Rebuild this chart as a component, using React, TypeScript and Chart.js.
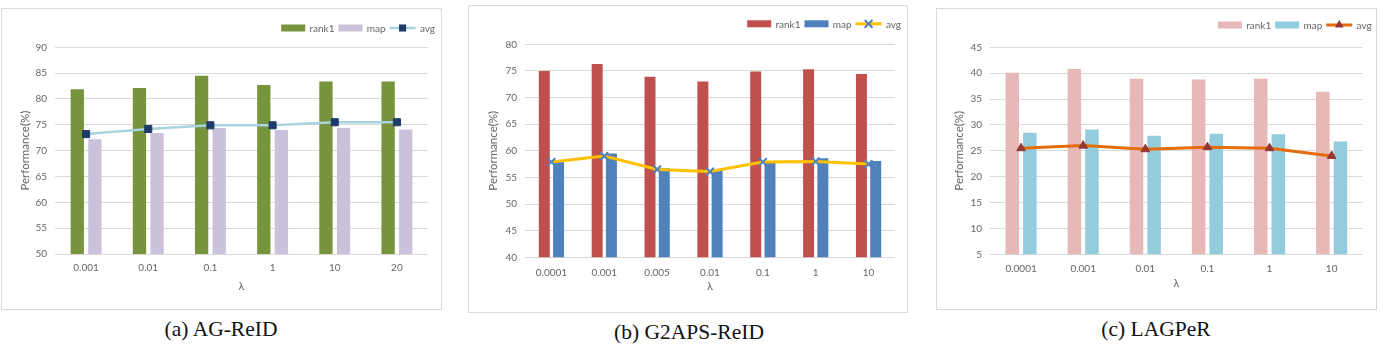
import React, { useEffect, useRef } from 'react';
import { Chart, registerables } from 'chart.js';

Chart.register(...registerables);

// ---------- Data ----------
const agLambdas = ['0.001', '0.01', '0.1', '1', '10', '20'];
const agRank1 = [81.9, 82.1, 84.5, 82.7, 83.4, 83.4];
const agMap = [72.2, 73.4, 74.4, 74.0, 74.4, 74.1];
const agAvg = [73.2, 74.2, 74.9, 74.9, 75.5, 75.5];

const g2Lambdas = ['0.0001', '0.001', '0.005', '0.01', '0.1', '1', '10'];
const g2Rank1 = [75.0, 76.3, 73.9, 73.0, 74.9, 75.3, 74.4];
const g2Map = [58.1, 59.5, 56.7, 56.4, 58.1, 58.6, 58.1];
const g2Avg = [57.9, 59.0, 56.5, 56.1, 57.9, 58.0, 57.5];

const laLambdas = ['0.0001', '0.001', '0.01', '0.1', '1', '10'];
const laRank1 = [40.1, 40.8, 38.9, 38.8, 38.9, 36.4];
const laMap = [28.5, 29.1, 27.9, 28.3, 28.2, 26.8];
const laAvg = [25.5, 26.0, 25.3, 25.7, 25.5, 24.0];

const seriesNames = ['rank1', 'map', 'avg'];
const yTitle = 'Performance(%)';
const xTitle = 'λ';

const TEXT = '#666666';
const GRID = '#d9d9d9';
const FONT = 'Lato, "Open Sans", sans-serif';

type Spec = {
  box: { left: number; top: number; width: number; height: number };
  caption: string;
  capCenter: number;
  capTop: number;
  labels: string[];
  rank1: number[];
  map: number[];
  avg: number[];
  yMin: number;
  yMax: number;
  c1: string;
  c2: string;
  lineColor: string;
  lineWidth: number;
  marker: 'rect' | 'crossRot' | 'triangle';
  markerColor: string;
  markerRadius: number;
  catPct: number;
  barPct: number;
  padTop: number;
  padRight: number;
  yAxisW: number;
  xAxisH: number;
  xTickPad: number;
  xTitlePad: number;
  yTitlePad: number;
  legendRight: number;
  legendY: number;
};

const specs: Spec[] = [
  {
    box: { left: 1, top: 8, width: 441, height: 302 },
    caption: '(a) AG-ReID', capCenter: 221, capTop: 318,
    labels: agLambdas, rank1: agRank1, map: agMap, avg: agAvg,
    yMin: 50, yMax: 90,
    c1: '#77933C', c2: '#CCC1DA', lineColor: '#A8D4E0', lineWidth: 2.5,
    marker: 'rect', markerColor: '#1F3B6A', markerRadius: 5,
    catPct: 0.566, barPct: 0.756,
    padTop: 38.3, padRight: 13, yAxisW: 53, xAxisH: 55,
    xTickPad: 8, xTitlePad: 16.4, yTitlePad: 16,
    legendRight: 433, legendY: 19,
  },
  {
    box: { left: 468, top: 5, width: 440, height: 308 },
    caption: '(b) G2APS-ReID', capCenter: 689, capTop: 321,
    labels: g2Lambdas, rank1: g2Rank1, map: g2Map, avg: g2Avg,
    yMin: 40, yMax: 80,
    c1: '#C0504D', c2: '#4F81BD', lineColor: '#FFC000', lineWidth: 3,
    marker: 'crossRot', markerColor: '#4F81BD', markerRadius: 5.5,
    catPct: 0.54, barPct: 0.77,
    padTop: 38.3, padRight: 12, yAxisW: 56, xAxisH: 54.7,
    xTickPad: 9.4, xTitlePad: 19.4, yTitlePad: 17.4,
    legendRight: 432, legendY: 17.8,
  },
  {
    box: { left: 936, top: 8, width: 441, height: 302 },
    caption: '(c) LAGPeR', capCenter: 1156, capTop: 318,
    labels: laLambdas, rank1: laRank1, map: laMap, avg: laAvg,
    yMin: 5, yMax: 45,
    c1: '#E6B9B8', c2: '#93CDDD', lineColor: '#E46C0A', lineWidth: 3,
    marker: 'triangle', markerColor: '#953735', markerRadius: 5,
    catPct: 0.566, barPct: 0.77,
    padTop: 38.3, padRight: 13.3, yAxisW: 53, xAxisH: 54.7,
    xTickPad: 8, xTitlePad: 19.1, yTitlePad: 15.4,
    legendRight: 434.7, legendY: 16,
  },
];

function drawMarker(ctx: CanvasRenderingContext2D, style: string, x: number, y: number, r: number, color: string) {
  ctx.save();
  ctx.fillStyle = color;
  ctx.strokeStyle = color;
  if (style === 'rect') {
    const s = r * Math.SQRT1_2;
    ctx.fillRect(x - s, y - s, 2 * s, 2 * s);
  } else if (style === 'crossRot') {
    const s = r * Math.SQRT1_2;
    ctx.lineWidth = 2;
    ctx.beginPath();
    ctx.moveTo(x - s, y - s);
    ctx.lineTo(x + s, y + s);
    ctx.moveTo(x - s, y + s);
    ctx.lineTo(x + s, y - s);
    ctx.stroke();
  } else {
    const h = r * 1.5;
    const w = r * Math.sqrt(3);
    ctx.beginPath();
    ctx.moveTo(x, y - r);
    ctx.lineTo(x + w / 2, y - r + h);
    ctx.lineTo(x - w / 2, y - r + h);
    ctx.closePath();
    ctx.fill();
  }
  ctx.restore();
}

function makeLegend(spec: Spec) {
  return {
    id: 'excelLegend',
    afterDraw(chart: any) {
      const ctx: CanvasRenderingContext2D = chart.ctx;
      const ds = chart.data.datasets;
      ctx.save();
      ctx.font = `10px ${FONT}`;
      ctx.textBaseline = 'middle';
      const gapSym = 4.3;
      const gapItem = 4;
      const items = ds.map((d: any) => {
        const isLine = d.type === 'line';
        return { d, isLine, sym: isLine ? 26 : 24, tw: ctx.measureText(d.label).width };
      });
      let total = 0;
      items.forEach((it: any, i: number) => {
        total += it.sym + gapSym + it.tw + (i < items.length - 1 ? gapItem : 0);
      });
      let x = spec.legendRight - total;
      const y = spec.legendY;
      items.forEach((it: any) => {
        if (it.isLine) {
          ctx.strokeStyle = it.d.borderColor;
          ctx.lineWidth = it.d.borderWidth;
          ctx.beginPath();
          ctx.moveTo(x, y);
          ctx.lineTo(x + it.sym, y);
          ctx.stroke();
          drawMarker(ctx, spec.marker, x + it.sym / 2, y, spec.markerRadius, spec.markerColor);
        } else {
          ctx.fillStyle = it.d.backgroundColor;
          ctx.fillRect(x, y - 3.5, it.sym, 7);
        }
        x += it.sym + gapSym;
        ctx.fillStyle = TEXT;
        ctx.textAlign = 'left';
        ctx.fillText(it.d.label, x, y + 0.5);
        x += it.tw + gapItem;
      });
      ctx.restore();
    },
  };
}

function Panel({ spec }: { spec: Spec }) {
  const ref = useRef<HTMLCanvasElement>(null);
  const cw = spec.box.width - 2;
  const ch = spec.box.height - 2;
  useEffect(() => {
    const chart = new Chart(ref.current as HTMLCanvasElement, {
      type: 'bar',
      data: {
        labels: spec.labels,
        datasets: [
          {
            label: seriesNames[0], data: spec.rank1, backgroundColor: spec.c1,
            categoryPercentage: spec.catPct, barPercentage: spec.barPct, order: 2,
          },
          {
            label: seriesNames[1], data: spec.map, backgroundColor: spec.c2,
            categoryPercentage: spec.catPct, barPercentage: spec.barPct, order: 2,
          },
          {
            type: 'line', label: seriesNames[2], data: spec.avg,
            borderColor: spec.lineColor, borderWidth: spec.lineWidth, tension: 0,
            pointStyle: spec.marker, pointRadius: spec.markerRadius,
            pointBackgroundColor: spec.markerColor, pointBorderColor: spec.markerColor,
            pointBorderWidth: spec.marker === 'crossRot' ? 2 : 1, order: 0,
          } as any,
        ],
      },
      options: {
        responsive: false,
        animation: false,
        layout: { padding: { left: 0, right: spec.padRight, top: spec.padTop, bottom: 0 } },
        plugins: { legend: { display: false }, tooltip: { enabled: false } },
        scales: {
          x: {
            grid: { display: false, drawTicks: false },
            border: { display: false },
            ticks: { padding: spec.xTickPad, color: TEXT, font: { family: FONT, size: 10 } },
            title: {
              display: true, text: xTitle, color: TEXT,
              font: { family: FONT, size: 11 }, padding: { top: 0, bottom: spec.xTitlePad },
            },
            afterFit: (s: any) => { s.height = spec.xAxisH; },
          },
          y: {
            min: spec.yMin, max: spec.yMax,
            ticks: { stepSize: 5, padding: 8, color: TEXT, font: { family: FONT, size: 10 } },
            grid: { color: GRID, lineWidth: 1, drawTicks: false },
            border: { display: false },
            title: {
              display: true, text: yTitle, color: TEXT,
              font: { family: FONT, size: 11.5 }, padding: { top: spec.yTitlePad, bottom: 0 },
            },
            afterFit: (s: any) => { s.width = spec.yAxisW; },
          },
        },
      } as any,
      plugins: [makeLegend(spec)],
    });
    return () => chart.destroy();
  }, []);
  return (
    <>
      <div
        style={{
          position: 'absolute', left: spec.box.left, top: spec.box.top,
          width: spec.box.width, height: spec.box.height, boxSizing: 'border-box',
          border: '1px solid #d9d9d9', background: '#fff',
        }}
      >
        <canvas ref={ref} width={cw} height={ch} style={{ display: 'block', width: cw, height: ch }} />
      </div>
      <div
        style={{
          position: 'absolute', left: spec.capCenter - 150, top: spec.capTop, width: 300,
          textAlign: 'center', fontFamily: '"Liberation Serif", "Times New Roman", serif',
          fontSize: '21.5px', lineHeight: '22px', color: '#111',
        }}
      >
        {spec.caption}
      </div>
    </>
  );
}

export default function App() {
  return (
    <div style={{ position: 'absolute', left: 0, top: 0, width: 1383, height: 344, background: '#fff', overflow: 'hidden' }}>
      {specs.map((s, i) => (
        <Panel key={i} spec={s} />
      ))}
    </div>
  );
}
